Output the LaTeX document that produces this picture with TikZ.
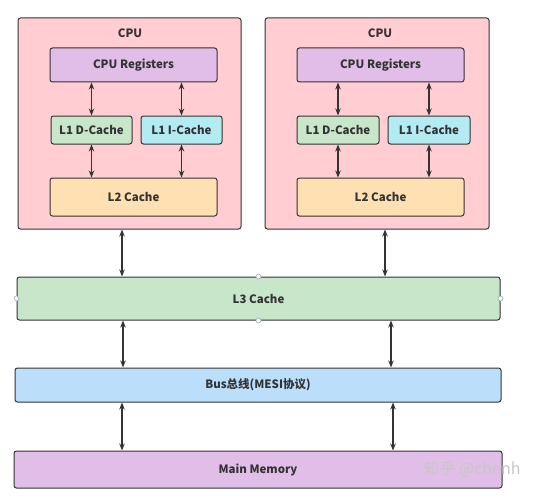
\documentclass[tikz,border=0pt]{standalone}
\usepackage{fontspec}
\setmainfont{Noto Sans CJK SC}
\usetikzlibrary{arrows.meta,calc}
\definecolor{edge}{HTML}{333333}
\definecolor{cpufill}{HTML}{FFCDD2}
\definecolor{regfill}{HTML}{E1BEE7}
\definecolor{dfill}{HTML}{C8E6C9}
\definecolor{ifill}{HTML}{B2EBF2}
\definecolor{l2fill}{HTML}{FFE0B2}
\definecolor{busfill}{HTML}{BBDEFB}
\definecolor{handle}{HTML}{9AB0C0}
\tikzset{
  box/.style={draw=edge, line width=1pt, rounded corners=2.5pt, rectangle, inner sep=0pt, anchor=center, font=\fontsize{11.5}{13}\selectfont\bfseries, text=edge},
  lbl/.style={font=\fontsize{11.5}{13}\selectfont\bfseries, text=edge, inner sep=0pt},
  arr/.style={draw=edge, line width=1.3pt, {Stealth[length=7pt,width=5.5pt]}-{Stealth[length=7pt,width=5.5pt]}},
  hdl/.style={circle, draw=handle, fill=white, line width=0.6pt, minimum size=5pt, inner sep=0pt}
}
\begin{document}
\begin{tikzpicture}[x=1pt,y=-1pt]
\useasboundingbox (0,0) rectangle (537,500);
% CPU A
\node[box, fill=cpufill, minimum width=223pt, minimum height=211pt] (cpuA) at (129.5,123.5) {};
\node[lbl] (cpuAlbl) at (130,33) {CPU};
\node[box, fill=regfill, minimum width=167pt, minimum height=34pt] (regA) at (133.5,65) {CPU Registers};
\node[box, fill=dfill, minimum width=81pt, minimum height=28pt] (l1dA) at (91.5,130) {L1 D-Cache};
\node[box, fill=ifill, minimum width=81pt, minimum height=28pt] (l1iA) at (181.5,130) {L1 I-Cache};
\node[box, fill=l2fill, minimum width=167pt, minimum height=38pt] (l2A) at (133.5,197) {L2 Cache};
\draw[arr] (l1dA.north) -- (l1dA.north |- regA.south);
\draw[arr] (l1iA.north) -- (l1iA.north |- regA.south);
\draw[arr] (l1dA.south) -- (l1dA.south |- l2A.north);
\draw[arr] (l1iA.south) -- (l1iA.south |- l2A.north);
% CPU B
\node[box, fill=cpufill, minimum width=224pt, minimum height=211pt] (cpuB) at (377,123.5) {};
\node[lbl] (cpuBlbl) at (380,33) {CPU};
\node[box, fill=regfill, minimum width=167pt, minimum height=34pt] (regB) at (380.5,65) {CPU Registers};
\node[box, fill=dfill, minimum width=82pt, minimum height=28pt] (l1dB) at (338,130) {L1 D-Cache};
\node[box, fill=ifill, minimum width=82pt, minimum height=28pt] (l1iB) at (429,130) {L1 I-Cache};
\node[box, fill=l2fill, minimum width=167pt, minimum height=38pt] (l2B) at (380.5,197) {L2 Cache};
\draw[arr] (l1dB.north) -- (l1dB.north |- regB.south);
\draw[arr] (l1iB.north) -- (l1iB.north |- regB.south);
\draw[arr] (l1dB.south) -- (l1dB.south |- l2B.north);
\draw[arr] (l1iB.south) -- (l1iB.south |- l2B.north);
% shared levels
\node[box, fill=dfill, minimum width=483pt, minimum height=43pt] (l3) at (258.5,298.5) {L3 Cache};
\node[box, fill=busfill, minimum width=486pt, minimum height=34pt] (bus) at (258,385) {Bus总线(MESI协议)};
\node[box, fill=regfill, minimum width=488pt, minimum height=37pt] (mem) at (258,469.5) {Main Memory};
\draw[arr] ([xshift=-7.5pt]cpuA.south) -- ([xshift=-7.5pt]cpuA.south |- l3.north);
\draw[arr] ([xshift=8pt]cpuB.south) -- ([xshift=8pt]cpuB.south |- l3.north);
\draw[arr] ([xshift=-135.5pt]l3.south) -- ([xshift=-135.5pt]l3.south |- bus.north);
\draw[arr] ([xshift=132.5pt]l3.south) -- ([xshift=132.5pt]l3.south |- bus.north);
\draw[arr] ([xshift=-136pt]bus.south) -- ([xshift=-136pt]bus.south |- mem.north);
\draw[arr] ([xshift=135pt]bus.south) -- ([xshift=135pt]bus.south |- mem.north);
% selection handles
\node[hdl] (hN) at (l3.north) {};
\node[hdl] (hS) at (l3.south) {};
\node[hdl] (hW) at (l3.west) {};
\node[hdl] (hE) at (l3.east) {};
% watermark
\node[font=\fontsize{16}{18}\selectfont, text=black!22, inner sep=0pt] (wm) at (472,469) {知乎 @chenh};
\end{tikzpicture}
\end{document}
